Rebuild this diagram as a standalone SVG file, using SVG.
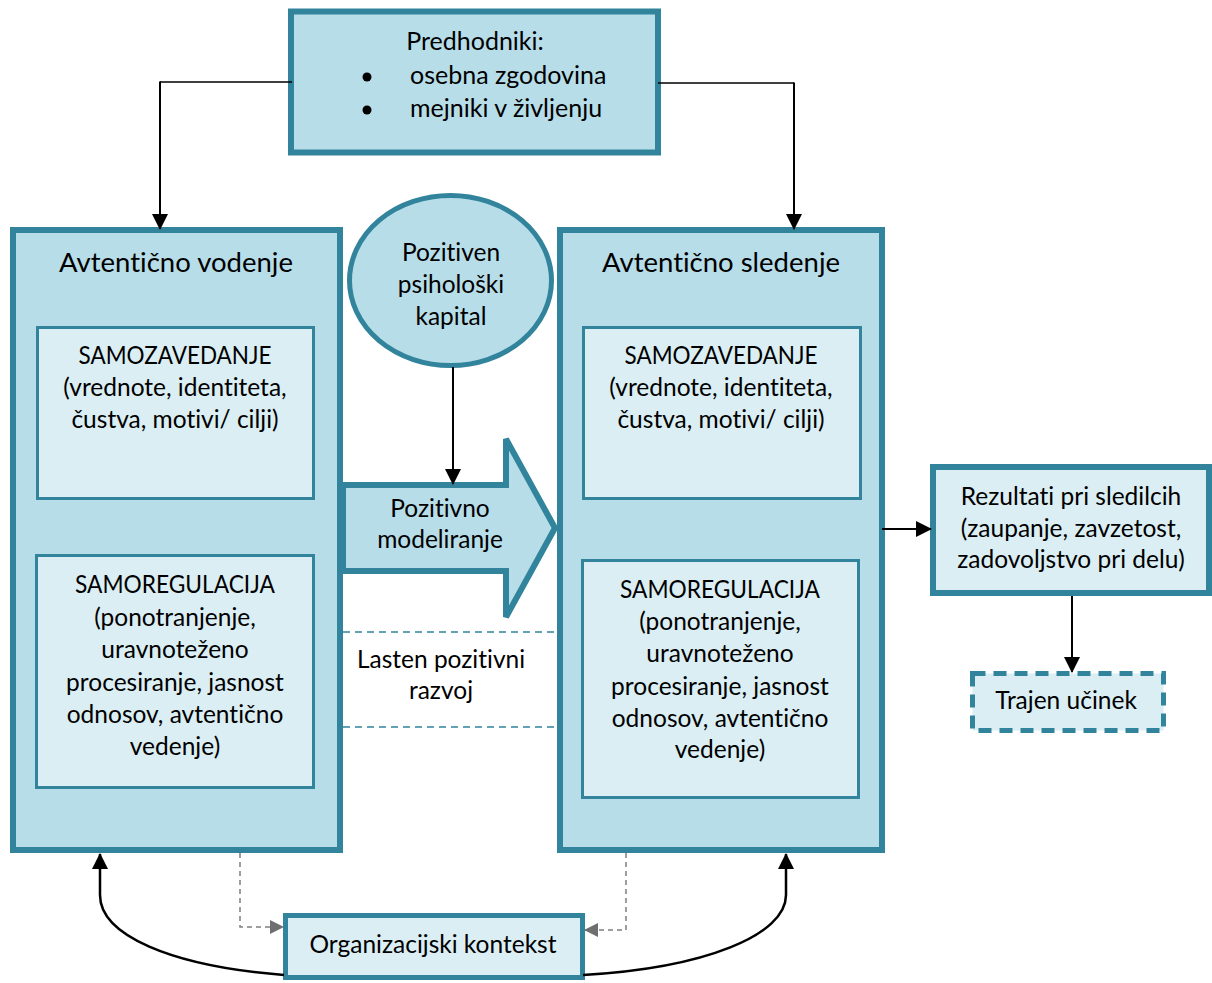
<svg xmlns="http://www.w3.org/2000/svg" width="1212" height="983" viewBox="0 0 1212 983">
<style>
.outer{fill:#b7dde8;stroke:#31849b;stroke-width:6}
.inner{fill:#daeef3;stroke:#31849b;stroke-width:3}
.t{font-family:Lato,"Liberation Sans",sans-serif;fill:#000;text-anchor:middle;font-variant-ligatures:none;font-feature-settings:"liga" 0}
.s22{font-size:24.5px}
.s24{font-size:25px}
.s26{font-size:27.5px}
.conn{fill:none;stroke:#000}
.tealdash{fill:none;stroke:#31849b;stroke-width:1.5;stroke-dasharray:7,5}
.greydash{fill:none;stroke:#7f7f7f;stroke-width:1.5;stroke-dasharray:5,4}
</style>
<defs>
<marker id="ah" markerUnits="userSpaceOnUse" markerWidth="16" markerHeight="16" refX="15" refY="8" orient="auto">
<path d="M0,0 L16,8 L0,16 z" fill="#000"/>
</marker>
<marker id="ahg" markerUnits="userSpaceOnUse" markerWidth="14" markerHeight="14" refX="13" refY="7" orient="auto">
<path d="M0,0 L14,7 L0,14 z" fill="#6f6f6f"/>
</marker>
</defs>

<g id="predhodniki">
<rect class="outer" x="291" y="11.5" width="367" height="141"/>
<text class="t s24" x="475" y="50">Predhodniki:</text>
<circle cx="367" cy="77" r="4.5" fill="#000"/>
<circle cx="367" cy="110" r="4.5" fill="#000"/>
<text class="t s24" x="410" y="84" style="text-anchor:start">osebna zgodovina</text>
<text class="t s24" x="410" y="117" style="text-anchor:start">mejniki v življenju</text>
</g>

<g id="avtenticno-vodenje">
<rect class="outer" x="13" y="230" width="327" height="620"/>
<text class="t s26" x="176" y="272">Avtentično vodenje</text>
</g>
<g id="samozavedanje-l">
<rect class="inner" x="37.5" y="327.5" width="276" height="171"/>
<text class="t s22" x="175" y="364" textLength="193" lengthAdjust="spacingAndGlyphs">SAMOZAVEDANJE</text>
<text class="t s22" x="175" y="396">(vrednote, identiteta,</text>
<text class="t s22" x="175" y="428">čustva, motivi/ cilji)</text>
</g>
<g id="samoregulacija-l">
<rect class="inner" x="36.5" y="555.5" width="277" height="232"/>
<text class="t s22" x="175" y="593" textLength="200" lengthAdjust="spacingAndGlyphs">SAMOREGULACIJA</text>
<text class="t s22" x="175" y="626">(ponotranjenje,</text>
<text class="t s22" x="175" y="658">uravnoteženo</text>
<text class="t s22" x="175" y="691">procesiranje, jasnost</text>
<text class="t s22" x="175" y="723">odnosov, avtentično</text>
<text class="t s22" x="175" y="755">vedenje)</text>
</g>

<g id="avtenticno-sledenje">
<rect class="outer" x="560" y="230" width="322" height="620"/>
<text class="t s26" x="721" y="272">Avtentično sledenje</text>
</g>
<g id="samozavedanje-r">
<rect class="inner" x="583.5" y="327.5" width="277" height="171"/>
<text class="t s22" x="721" y="364" textLength="193" lengthAdjust="spacingAndGlyphs">SAMOZAVEDANJE</text>
<text class="t s22" x="721" y="396">(vrednote, identiteta,</text>
<text class="t s22" x="721" y="428">čustva, motivi/ cilji)</text>
</g>
<g id="samoregulacija-r">
<rect class="inner" x="582.5" y="560.5" width="276" height="237"/>
<text class="t s22" x="720" y="598" textLength="200" lengthAdjust="spacingAndGlyphs">SAMOREGULACIJA</text>
<text class="t s22" x="720" y="630">(ponotranjenje,</text>
<text class="t s22" x="720" y="662">uravnoteženo</text>
<text class="t s22" x="720" y="695">procesiranje, jasnost</text>
<text class="t s22" x="720" y="727">odnosov, avtentično</text>
<text class="t s22" x="720" y="758">vedenje)</text>
</g>

<g id="psiholoski-kapital">
<ellipse cx="450.5" cy="280.5" rx="101" ry="85" fill="#b7dde8" stroke="#31849b" stroke-width="5"/>
<text class="t s22" x="451" y="261">Pozitiven</text>
<text class="t s22" x="451" y="293">psihološki</text>
<text class="t s22" x="451" y="325">kapital</text>
</g>

<g id="pozitivno-modeliranje">
<polygon points="343,485 506,485 506,439 555,528 506,617 506,571 343,571" fill="#b7dde8" stroke="#31849b" stroke-width="6" stroke-linejoin="miter"/>
<text class="t s22" x="440" y="517">Pozitivno</text>
<text class="t s22" x="440" y="548">modeliranje</text>
</g>

<g id="lasten-razvoj">
<text class="t s22" x="441" y="668">Lasten pozitivni</text>
<text class="t s22" x="441" y="699">razvoj</text>
</g>

<g id="rezultati">
<rect x="933" y="467" width="276" height="126" fill="#daeef3" stroke="#31849b" stroke-width="6"/>
<text class="t s22" x="1071" y="505">Rezultati pri sledilcih</text>
<text class="t s22" x="1071" y="537">(zaupanje, zavzetost,</text>
<text class="t s22" x="1071" y="568">zadovoljstvo pri delu)</text>
</g>

<g id="trajen-ucinek">
<rect x="972.5" y="673.5" width="191" height="57" fill="#daeef3" stroke="#31849b" stroke-width="5" stroke-dasharray="13,8"/>
<text class="t s22" x="1066" y="709">Trajen učinek</text>
</g>

<g id="organizacijski-kontekst">
<rect x="285.5" y="915.5" width="297" height="62" fill="#daeef3" stroke="#31849b" stroke-width="5"/>
<text class="t s22" x="433" y="953">Organizacijski kontekst</text>
</g>

<g id="connectors">
<line class="conn" x1="292" y1="82" x2="160" y2="82" stroke-width="1.3"/>
<line class="conn" x1="160" y1="81.5" x2="160" y2="229" stroke-width="2" marker-end="url(#ah)"/>
<line class="conn" x1="658" y1="83" x2="794" y2="83" stroke-width="1.3"/>
<line class="conn" x1="794" y1="82.5" x2="794" y2="229" stroke-width="2" marker-end="url(#ah)"/>
<line class="conn" x1="453" y1="367" x2="453" y2="484" stroke-width="2" marker-end="url(#ah)"/>
<line class="conn" x1="882" y1="529" x2="931" y2="529" stroke-width="2" marker-end="url(#ah)"/>
<line class="conn" x1="1072" y1="596" x2="1072" y2="672" stroke-width="2" marker-end="url(#ah)"/>
<line class="tealdash" x1="343" y1="632" x2="557" y2="632"/>
<line class="tealdash" x1="343" y1="727" x2="557" y2="727"/>
<path class="greydash" d="M240,853 V927 H283" marker-end="url(#ahg)"/>
<path class="greydash" d="M626,853 V930 H585" marker-end="url(#ahg)"/>
<path class="conn" d="M284,975 C170,966 100,935 100,895 L100,854" stroke-width="2.5" marker-end="url(#ah)"/>
<path class="conn" d="M583,975 C705,968 786,935 786,895 L786,854" stroke-width="2.5" marker-end="url(#ah)"/>
</g>
</svg>
